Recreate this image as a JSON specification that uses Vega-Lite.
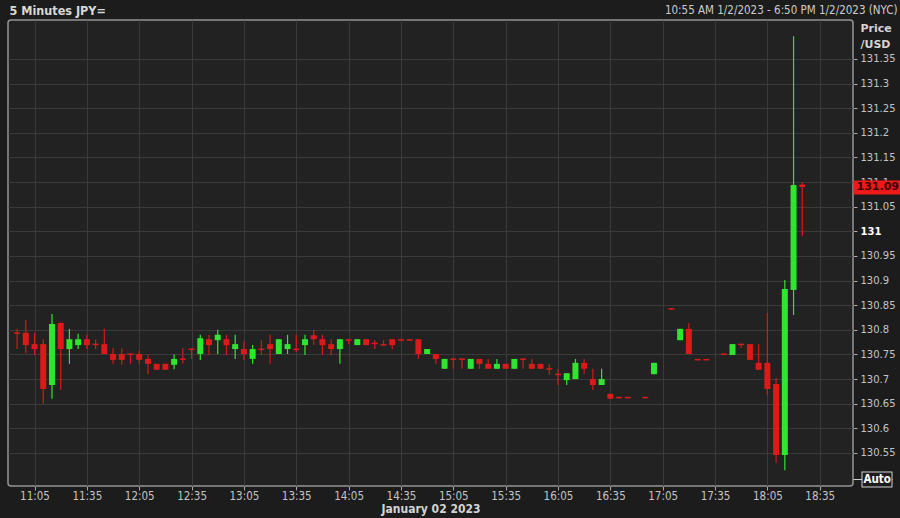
{
  "$schema": "https://vega.github.io/schema/vega-lite/v6.json",
  "width": 845,
  "height": 466,
  "autosize": "none",
  "padding": {"left": 8, "top": 20, "right": 47, "bottom": 32},
  "background": "#1c1c1c",
  "config": {
    "view": {"stroke": "#949494", "strokeWidth": 1.5, "cornerRadius": 3, "fill": "#222222"},
    "axis": {"labelFont": "DejaVu Sans", "labelColor": "#c4c4c4", "gridColor": "#3a3a3a", "gridWidth": 1, "tickColor": "#a8a8a8", "domain": false, "titleColor": "#d4d4d4", "labelOverlap": false, "labelFlush": false}
  },
  "datasets": {
    "candles": [
      {"t": "2023-01-02T10:55:00Z", "o": 130.795, "h": 130.802, "l": 130.761, "c": 130.792},
      {"t": "2023-01-02T11:00:00Z", "o": 130.794, "h": 130.820, "l": 130.753, "c": 130.769},
      {"t": "2023-01-02T11:05:00Z", "o": 130.771, "h": 130.794, "l": 130.749, "c": 130.761},
      {"t": "2023-01-02T11:10:00Z", "o": 130.771, "h": 130.781, "l": 130.650, "c": 130.680},
      {"t": "2023-01-02T11:15:00Z", "o": 130.688, "h": 130.832, "l": 130.660, "c": 130.812},
      {"t": "2023-01-02T11:20:00Z", "o": 130.814, "h": 130.815, "l": 130.678, "c": 130.761},
      {"t": "2023-01-02T11:25:00Z", "o": 130.761, "h": 130.802, "l": 130.731, "c": 130.781},
      {"t": "2023-01-02T11:30:00Z", "o": 130.769, "h": 130.792, "l": 130.761, "c": 130.781},
      {"t": "2023-01-02T11:35:00Z", "o": 130.781, "h": 130.790, "l": 130.761, "c": 130.769},
      {"t": "2023-01-02T11:40:00Z", "o": 130.772, "h": 130.780, "l": 130.761, "c": 130.769},
      {"t": "2023-01-02T11:45:00Z", "o": 130.771, "h": 130.802, "l": 130.751, "c": 130.751},
      {"t": "2023-01-02T11:50:00Z", "o": 130.751, "h": 130.763, "l": 130.731, "c": 130.739},
      {"t": "2023-01-02T11:55:00Z", "o": 130.751, "h": 130.762, "l": 130.729, "c": 130.739},
      {"t": "2023-01-02T12:00:00Z", "o": 130.752, "h": 130.752, "l": 130.731, "c": 130.749},
      {"t": "2023-01-02T12:05:00Z", "o": 130.751, "h": 130.757, "l": 130.731, "c": 130.739},
      {"t": "2023-01-02T12:10:00Z", "o": 130.741, "h": 130.750, "l": 130.710, "c": 130.731},
      {"t": "2023-01-02T12:15:00Z", "o": 130.731, "h": 130.731, "l": 130.719, "c": 130.719},
      {"t": "2023-01-02T12:20:00Z", "o": 130.731, "h": 130.731, "l": 130.719, "c": 130.719},
      {"t": "2023-01-02T12:25:00Z", "o": 130.729, "h": 130.750, "l": 130.720, "c": 130.741},
      {"t": "2023-01-02T12:30:00Z", "o": 130.742, "h": 130.763, "l": 130.731, "c": 130.739},
      {"t": "2023-01-02T12:35:00Z", "o": 130.762, "h": 130.763, "l": 130.741, "c": 130.759},
      {"t": "2023-01-02T12:40:00Z", "o": 130.751, "h": 130.790, "l": 130.739, "c": 130.783},
      {"t": "2023-01-02T12:45:00Z", "o": 130.781, "h": 130.790, "l": 130.749, "c": 130.769},
      {"t": "2023-01-02T12:50:00Z", "o": 130.779, "h": 130.800, "l": 130.751, "c": 130.790},
      {"t": "2023-01-02T12:55:00Z", "o": 130.781, "h": 130.790, "l": 130.749, "c": 130.769},
      {"t": "2023-01-02T13:00:00Z", "o": 130.761, "h": 130.790, "l": 130.741, "c": 130.771},
      {"t": "2023-01-02T13:05:00Z", "o": 130.761, "h": 130.777, "l": 130.739, "c": 130.751},
      {"t": "2023-01-02T13:10:00Z", "o": 130.741, "h": 130.769, "l": 130.731, "c": 130.761},
      {"t": "2023-01-02T13:15:00Z", "o": 130.762, "h": 130.779, "l": 130.749, "c": 130.759},
      {"t": "2023-01-02T13:20:00Z", "o": 130.771, "h": 130.790, "l": 130.731, "c": 130.761},
      {"t": "2023-01-02T13:25:00Z", "o": 130.751, "h": 130.781, "l": 130.751, "c": 130.781},
      {"t": "2023-01-02T13:30:00Z", "o": 130.761, "h": 130.790, "l": 130.751, "c": 130.771},
      {"t": "2023-01-02T13:35:00Z", "o": 130.762, "h": 130.790, "l": 130.755, "c": 130.759},
      {"t": "2023-01-02T13:40:00Z", "o": 130.769, "h": 130.790, "l": 130.749, "c": 130.781},
      {"t": "2023-01-02T13:45:00Z", "o": 130.789, "h": 130.800, "l": 130.769, "c": 130.781},
      {"t": "2023-01-02T13:50:00Z", "o": 130.781, "h": 130.790, "l": 130.749, "c": 130.769},
      {"t": "2023-01-02T13:55:00Z", "o": 130.771, "h": 130.781, "l": 130.749, "c": 130.761},
      {"t": "2023-01-02T14:00:00Z", "o": 130.761, "h": 130.781, "l": 130.731, "c": 130.781},
      {"t": "2023-01-02T14:05:00Z", "o": 130.781, "h": 130.781, "l": 130.771, "c": 130.778},
      {"t": "2023-01-02T14:10:00Z", "o": 130.769, "h": 130.781, "l": 130.769, "c": 130.781},
      {"t": "2023-01-02T14:15:00Z", "o": 130.781, "h": 130.781, "l": 130.769, "c": 130.769},
      {"t": "2023-01-02T14:20:00Z", "o": 130.774, "h": 130.779, "l": 130.761, "c": 130.771},
      {"t": "2023-01-02T14:25:00Z", "o": 130.771, "h": 130.779, "l": 130.768, "c": 130.768},
      {"t": "2023-01-02T14:30:00Z", "o": 130.781, "h": 130.781, "l": 130.761, "c": 130.769},
      {"t": "2023-01-02T14:35:00Z", "o": 130.781, "h": 130.781, "l": 130.778, "c": 130.778},
      {"t": "2023-01-02T14:40:00Z", "o": 130.781, "h": 130.781, "l": 130.778, "c": 130.778},
      {"t": "2023-01-02T14:45:00Z", "o": 130.781, "h": 130.781, "l": 130.741, "c": 130.751},
      {"t": "2023-01-02T14:50:00Z", "o": 130.751, "h": 130.761, "l": 130.751, "c": 130.761},
      {"t": "2023-01-02T14:55:00Z", "o": 130.751, "h": 130.751, "l": 130.731, "c": 130.741},
      {"t": "2023-01-02T15:00:00Z", "o": 130.721, "h": 130.741, "l": 130.721, "c": 130.741},
      {"t": "2023-01-02T15:05:00Z", "o": 130.742, "h": 130.742, "l": 130.721, "c": 130.739},
      {"t": "2023-01-02T15:10:00Z", "o": 130.742, "h": 130.742, "l": 130.721, "c": 130.739},
      {"t": "2023-01-02T15:15:00Z", "o": 130.721, "h": 130.741, "l": 130.721, "c": 130.741},
      {"t": "2023-01-02T15:20:00Z", "o": 130.741, "h": 130.741, "l": 130.721, "c": 130.731},
      {"t": "2023-01-02T15:25:00Z", "o": 130.731, "h": 130.741, "l": 130.721, "c": 130.721},
      {"t": "2023-01-02T15:30:00Z", "o": 130.721, "h": 130.741, "l": 130.721, "c": 130.731},
      {"t": "2023-01-02T15:35:00Z", "o": 130.731, "h": 130.731, "l": 130.721, "c": 130.721},
      {"t": "2023-01-02T15:40:00Z", "o": 130.721, "h": 130.741, "l": 130.721, "c": 130.741},
      {"t": "2023-01-02T15:45:00Z", "o": 130.742, "h": 130.742, "l": 130.721, "c": 130.739},
      {"t": "2023-01-02T15:50:00Z", "o": 130.731, "h": 130.741, "l": 130.721, "c": 130.721},
      {"t": "2023-01-02T15:55:00Z", "o": 130.731, "h": 130.731, "l": 130.721, "c": 130.721},
      {"t": "2023-01-02T16:00:00Z", "o": 130.722, "h": 130.731, "l": 130.709, "c": 130.719},
      {"t": "2023-01-02T16:05:00Z", "o": 130.711, "h": 130.721, "l": 130.688, "c": 130.708},
      {"t": "2023-01-02T16:10:00Z", "o": 130.698, "h": 130.712, "l": 130.688, "c": 130.712},
      {"t": "2023-01-02T16:15:00Z", "o": 130.700, "h": 130.741, "l": 130.700, "c": 130.733},
      {"t": "2023-01-02T16:20:00Z", "o": 130.733, "h": 130.741, "l": 130.711, "c": 130.721},
      {"t": "2023-01-02T16:25:00Z", "o": 130.700, "h": 130.721, "l": 130.678, "c": 130.688},
      {"t": "2023-01-02T16:30:00Z", "o": 130.688, "h": 130.721, "l": 130.688, "c": 130.700},
      {"t": "2023-01-02T16:35:00Z", "o": 130.670, "h": 130.670, "l": 130.660, "c": 130.660},
      {"t": "2023-01-02T16:40:00Z", "o": 130.664, "h": 130.664, "l": 130.661, "c": 130.661},
      {"t": "2023-01-02T16:45:00Z", "o": 130.664, "h": 130.664, "l": 130.661, "c": 130.661},
      {"t": "2023-01-02T16:55:00Z", "o": 130.664, "h": 130.664, "l": 130.661, "c": 130.661},
      {"t": "2023-01-02T17:00:00Z", "o": 130.710, "h": 130.733, "l": 130.710, "c": 130.733},
      {"t": "2023-01-02T17:10:00Z", "o": 130.844, "h": 130.844, "l": 130.841, "c": 130.841},
      {"t": "2023-01-02T17:15:00Z", "o": 130.779, "h": 130.802, "l": 130.779, "c": 130.802},
      {"t": "2023-01-02T17:20:00Z", "o": 130.802, "h": 130.814, "l": 130.751, "c": 130.751},
      {"t": "2023-01-02T17:25:00Z", "o": 130.741, "h": 130.741, "l": 130.738, "c": 130.738},
      {"t": "2023-01-02T17:30:00Z", "o": 130.741, "h": 130.741, "l": 130.738, "c": 130.738},
      {"t": "2023-01-02T17:40:00Z", "o": 130.752, "h": 130.752, "l": 130.749, "c": 130.749},
      {"t": "2023-01-02T17:45:00Z", "o": 130.749, "h": 130.771, "l": 130.749, "c": 130.771},
      {"t": "2023-01-02T17:50:00Z", "o": 130.772, "h": 130.772, "l": 130.763, "c": 130.769},
      {"t": "2023-01-02T17:55:00Z", "o": 130.771, "h": 130.771, "l": 130.739, "c": 130.739},
      {"t": "2023-01-02T18:00:00Z", "o": 130.733, "h": 130.771, "l": 130.719, "c": 130.719},
      {"t": "2023-01-02T18:05:00Z", "o": 130.733, "h": 130.834, "l": 130.668, "c": 130.680},
      {"t": "2023-01-02T18:10:00Z", "o": 130.690, "h": 130.702, "l": 130.530, "c": 130.546},
      {"t": "2023-01-02T18:15:00Z", "o": 130.546, "h": 130.901, "l": 130.515, "c": 130.883},
      {"t": "2023-01-02T18:20:00Z", "o": 130.881, "h": 131.396, "l": 130.830, "c": 131.094},
      {"t": "2023-01-02T18:25:00Z", "o": 131.095, "h": 131.100, "l": 130.990, "c": 131.090}
    ]
  },
  "data": {"name": "candles"},
  "resolve": {"axis": {"x": "independent", "y": "independent"}},
  "layer": [
    {
      "mark": {"type": "rule", "strokeWidth": 1.2},
      "encoding": {
        "x": {
          "field": "t", "type": "temporal",
          "scale": {"type": "utc", "domain": [
            {"year": 2023, "month": 1, "date": 2, "hours": 10, "minutes": 52, "seconds": 40, "utc": true},
            {"year": 2023, "month": 1, "date": 2, "hours": 18, "minutes": 51, "seconds": 12, "utc": true}
          ]},
          "axis": {
            "orient": "bottom",
            "values": [
              {"year": 2023, "month": 1, "date": 2, "hours": 11, "minutes": 5, "utc": true},
              {"year": 2023, "month": 1, "date": 2, "hours": 11, "minutes": 35, "utc": true},
              {"year": 2023, "month": 1, "date": 2, "hours": 12, "minutes": 5, "utc": true},
              {"year": 2023, "month": 1, "date": 2, "hours": 12, "minutes": 35, "utc": true},
              {"year": 2023, "month": 1, "date": 2, "hours": 13, "minutes": 5, "utc": true},
              {"year": 2023, "month": 1, "date": 2, "hours": 13, "minutes": 35, "utc": true},
              {"year": 2023, "month": 1, "date": 2, "hours": 14, "minutes": 5, "utc": true},
              {"year": 2023, "month": 1, "date": 2, "hours": 14, "minutes": 35, "utc": true},
              {"year": 2023, "month": 1, "date": 2, "hours": 15, "minutes": 5, "utc": true},
              {"year": 2023, "month": 1, "date": 2, "hours": 15, "minutes": 35, "utc": true},
              {"year": 2023, "month": 1, "date": 2, "hours": 16, "minutes": 5, "utc": true},
              {"year": 2023, "month": 1, "date": 2, "hours": 16, "minutes": 35, "utc": true},
              {"year": 2023, "month": 1, "date": 2, "hours": 17, "minutes": 5, "utc": true},
              {"year": 2023, "month": 1, "date": 2, "hours": 17, "minutes": 35, "utc": true},
              {"year": 2023, "month": 1, "date": 2, "hours": 18, "minutes": 5, "utc": true},
              {"year": 2023, "month": 1, "date": 2, "hours": 18, "minutes": 35, "utc": true}
            ],
            "format": "%H:%M",
            "grid": true,
            "ticks": true, "tickSize": 4,
            "labelPadding": 0,
            "labelFont": "DejaVu Sans Condensed", "labelFontSize": 11.5,
            "title": "January 02 2023",
            "titleFont": "DejaVu Sans Condensed", "titleFontSize": 12, "titleFontWeight": "bold",
            "titlePadding": 2
          }
        },
        "y": {
          "field": "l", "type": "quantitative",
          "scale": {"domain": [130.483, 131.429], "nice": false, "zero": false},
          "axis": {
            "orient": "right",
            "values": [130.55, 130.6, 130.65, 130.7, 130.75, 130.8, 130.85, 130.9, 130.95, 131, 131.05, 131.1, 131.15, 131.2, 131.25, 131.3, 131.35],
            "format": ".2~f",
            "grid": true,
            "ticks": true, "tickSize": 4,
            "labelPadding": 3,
            "labelFontSize": 10,
            "labelFontWeight": {"condition": {"test": "abs(datum.value - 131) < 0.001", "value": "bold"}, "value": "normal"},
            "labelColor": {"condition": {"test": "abs(datum.value - 131) < 0.001", "value": "#ffffff"}, "value": "#c4c4c4"},
            "title": ["Price", "/USD"],
            "titleAngle": 0, "titleAlign": "left", "titleBaseline": "top",
            "titleX": 7, "titleY": 2,
            "titleFont": "DejaVu Sans", "titleFontSize": 11, "titleFontWeight": "bold", "titleLineHeight": 16
          }
        },
        "y2": {"field": "h"},
        "color": {"condition": {"test": "datum.o < datum.c", "value": "#2ee62e"}, "value": "#d81818"}
      }
    },
    {
      "mark": {"type": "bar", "size": 6},
      "encoding": {
        "x": {
          "field": "t", "type": "temporal",
          "axis": {
            "orient": "top", "labels": false, "ticks": false, "grid": false, "domain": false,
            "title": "10:55 AM 1/2/2023 - 6:50 PM 1/2/2023 (NYC)",
            "titleX": 889, "titleY": -10, "titleAlign": "right", "titleBaseline": "middle",
            "titleFont": "DejaVu Sans Condensed", "titleFontSize": 11.5, "titleFontWeight": "normal", "titleColor": "#cccccc"
          }
        },
        "y": {
          "field": "o", "type": "quantitative",
          "axis": {
            "orient": "left", "labels": false, "ticks": false, "grid": false, "domain": false,
            "title": "5 Minutes JPY=",
            "titleAngle": 0, "titleX": 1, "titleY": -10, "titleAlign": "left", "titleBaseline": "middle",
            "titleFont": "DejaVu Sans Condensed", "titleFontSize": 12.5, "titleFontWeight": "bold", "titleColor": "#d8d8d8"
          }
        },
        "y2": {"field": "c"},
        "color": {"condition": {"test": "datum.o < datum.c", "value": "#2ee62e"}, "value": "#dc1a1a"}
      }
    },
    {
      "mark": {"type": "rule", "opacity": 0},
      "encoding": {
        "y": {
          "datum": 131.09, "type": "quantitative",
          "axis": {
            "orient": "right", "values": [131.09], "format": ".2f",
            "domain": false, "grid": false, "ticks": true,
            "tickSize": 47, "tickWidth": 14, "tickColor": "#f01818", "tickCap": "butt",
            "labelPadding": -44, "labelColor": "#3a0505", "labelFontWeight": "bold", "labelFontSize": 11,
            "title": null, "zindex": 2
          }
        }
      }
    },
    {
      "mark": {"type": "rule", "opacity": 0},
      "encoding": {
        "y": {
          "datum": 130.497, "type": "quantitative",
          "axis": {
            "orient": "right", "values": [130.497],
            "domain": false, "grid": false, "ticks": true, "labels": false,
            "tickSize": 39, "tickWidth": 1, "tickColor": "#d0d0d0",
            "title": null, "zindex": 2
          }
        }
      }
    },
    {
      "mark": {"type": "rule", "opacity": 0},
      "encoding": {
        "y": {
          "datum": 130.4971, "type": "quantitative",
          "axis": {
            "orient": "right", "values": [130.4971], "offset": 8,
            "domain": false, "grid": false, "ticks": true, "labels": false,
            "tickSize": 31, "tickWidth": 16, "tickColor": "#d0d0d0", "tickCap": "butt",
            "title": null, "zindex": 2
          }
        }
      }
    },
    {
      "mark": {"type": "rule", "opacity": 0},
      "encoding": {
        "y": {
          "datum": 130.4972, "type": "quantitative",
          "axis": {
            "orient": "right", "values": [130.4972], "offset": 9,
            "domain": false, "grid": false, "ticks": true,
            "tickSize": 29, "tickWidth": 14, "tickColor": "#1c1c1c", "tickCap": "butt",
            "labelExpr": "'Auto'", "labelPadding": -28, "labelColor": "#ffffff", "labelFontWeight": "bold",
            "labelFont": "DejaVu Sans Condensed", "labelFontSize": 11.5,
            "title": null, "zindex": 2
          }
        }
      }
    }
  ]
}
